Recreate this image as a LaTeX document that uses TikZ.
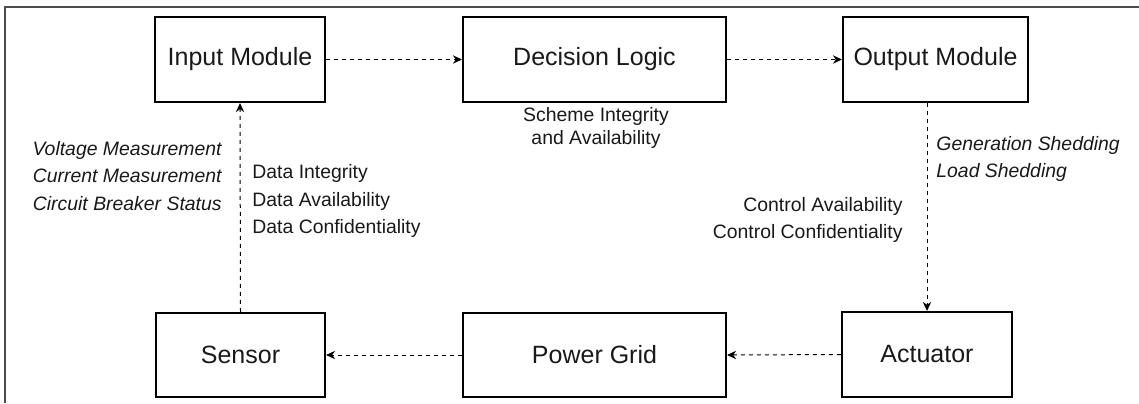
\documentclass[tikz,border=0pt]{standalone}
\usepackage{fontspec}
\setmainfont{Liberation Sans}
\usetikzlibrary{arrows.meta}
\begin{document}
\begin{tikzpicture}[x=0.5pt,y=-0.5pt,
  blk/.style={draw=black,line width=1.1pt,inner sep=0pt,font=\fontsize{12.5}{15}\selectfont,text=black!90},
  flow/.style={draw=black,line width=0.5pt,dash pattern=on 2pt off 2pt,-{Stealth[length=4.5pt,width=4.2pt]}},
  lbl/.style={inner sep=0pt,font=\fontsize{9.7}{13.75}\selectfont,text=black!90},
  frame/.style={draw=black!70,line width=0.6pt}]
\useasboundingbox (0,0) rectangle (1139,403);
\coordinate (tl) at (5,7);
\coordinate (tr) at (1139,7);
\coordinate (bl) at (5,403);
\draw[frame] (tr) -- (tl) -- (bl);

\node[blk,minimum width=85pt,minimum height=42.5pt] (input) at (240,59.5) {Input Module};
\node[blk,minimum width=131.5pt,minimum height=42.5pt] (decision) at (594.5,59.5) {Decision Logic};
\node[blk,minimum width=92.5pt,minimum height=42.5pt] (output) at (935.5,59.5) {Output Module};
\node[blk,minimum width=84.5pt,minimum height=42pt] (sensor) at (240.5,355) {Sensor};
\node[blk,minimum width=131.5pt,minimum height=42pt] (grid) at (594.5,355) {Power Grid};
\node[blk,minimum width=85pt,minimum height=42.5pt] (actuator) at (927,354.5) {Actuator};

\draw[flow] (input.east) -- (decision.west);
\draw[flow] (decision.east) -- (output.west);
\draw[flow] (output.south -| actuator.north) -- (actuator.north);
\draw[flow] (actuator.west) -- (grid.east);
\draw[flow] (grid.west) -- (sensor.east);
\draw[flow] (sensor.north) -- (input.south);

\node[lbl,align=center,font=\fontsize{9.7}{11.5}\selectfont] (scheme) at (596,128) {Scheme Integrity\\and Availability};
\node[lbl,align=right,anchor=east,font=\fontsize{9.7}{13.75}\selectfont\itshape] (meas) at (222,176) {Voltage Measurement\\Current Measurement\\Circuit Breaker Status};
\node[lbl,align=left,anchor=west] (data) at (252,201) {Data Integrity\\Data Availability\\Data Confidentiality};
\node[lbl,align=left,anchor=west,font=\fontsize{9.7}{13.75}\selectfont\itshape] (shed) at (936,159) {Generation Shedding\\Load Shedding};
\node[lbl,align=right,anchor=east] (ctrl) at (903,220) {Control Availability\\Control Confidentiality};
\end{tikzpicture}
\end{document}
